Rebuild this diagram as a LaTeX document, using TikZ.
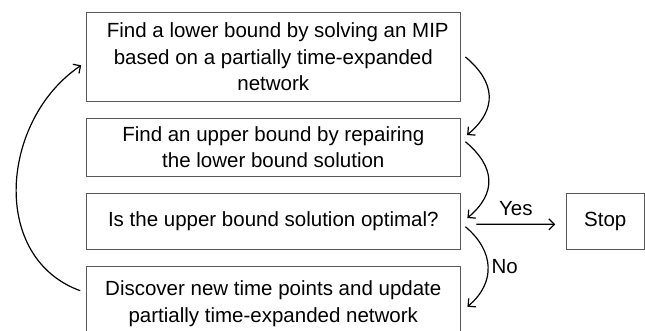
\documentclass[tikz,border=0pt]{standalone}
\usepackage{fontspec}
\setmainfont{Liberation Sans}
\usetikzlibrary{arrows.meta,calc}

\tikzset{
  stepbox/.style={draw=black!65, line width=0.9pt, align=center, inner sep=0pt,
    font=\fontsize{20.5}{26.7}\selectfont},
  flow/.style={line width=1.2pt, -{Straight Barb[length=5.5pt,width=11pt,line width=1.2pt]}},
  lbl/.style={font=\fontsize{20.5}{24}\selectfont, inner sep=0pt}
}

\begin{document}
\begin{tikzpicture}[x=1pt,y=1pt]
  \clip (0,0) rectangle (645,-330);

  % process steps
  \node[stepbox, minimum width=373.3, minimum height=89.7] (lb) at (273.3,-56.9)
    {\hspace*{9pt}Find a lower bound by solving an MIP\\based on a partially time-expanded\hspace*{10pt}\\network};
  \node[stepbox, minimum width=373.3, minimum height=57.3] (ub) at (273.3,-147.3)
    {Find an upper bound by repairing\\the lower bound solution};
  \node[stepbox, minimum width=373.3, minimum height=56.2] (opt) at (273.3,-221.4)
    {Is the upper bound solution optimal?};
  \node[stepbox, minimum width=373.3, minimum height=73.4] (disc) at (273.3,-303.4)
    {Discover new time points and update\\partially time-expanded network};
  \node[stepbox, minimum width=77.3, minimum height=56] (stop) at (605.3,-221.3)
    {Stop};

  % end points of the curved connectors
  \coordinate (a1) at ($(lb.east)+(5,0)$);
  \coordinate (a2) at ($(ub.east)+(6.7,12.3)$);
  \coordinate (b1) at ($(ub.east)+(5,5.6)$);
  \coordinate (b2) at ($(opt.east)+(7,3.4)$);
  \coordinate (c1) at ($(opt.east)+(5,-5.3)$);
  \coordinate (c2) at ($(disc.east)+(7,-3.3)$);
  \coordinate (d1) at ($(disc.west)+(-6,12.7)$);
  \coordinate (d2) at ($(lb.west)+(-5,-8.4)$);

  \draw[flow] (a1) to[out=-40, in=40, looseness=1.3] (a2);
  \draw[flow] (b1) to[out=-40, in=40, looseness=1.3] (b2);
  \draw[flow] (c1) to[out=-40, in=40, looseness=1.2]
    node[lbl, right, pos=0.5, xshift=3pt] {No} (c2);

  \draw[flow] ($(opt.east)+(16,-2.9)$) -- node[lbl, above=8pt] {Yes} ($(stop.west)+(-11,-3)$);

  % loop back to the first step
  \draw[flow] (d1) .. controls ($(d1)+(-91.2,33.2)$) and ($(d2)+(-80.4,-54.2)$) .. (d2);
\end{tikzpicture}
\end{document}
